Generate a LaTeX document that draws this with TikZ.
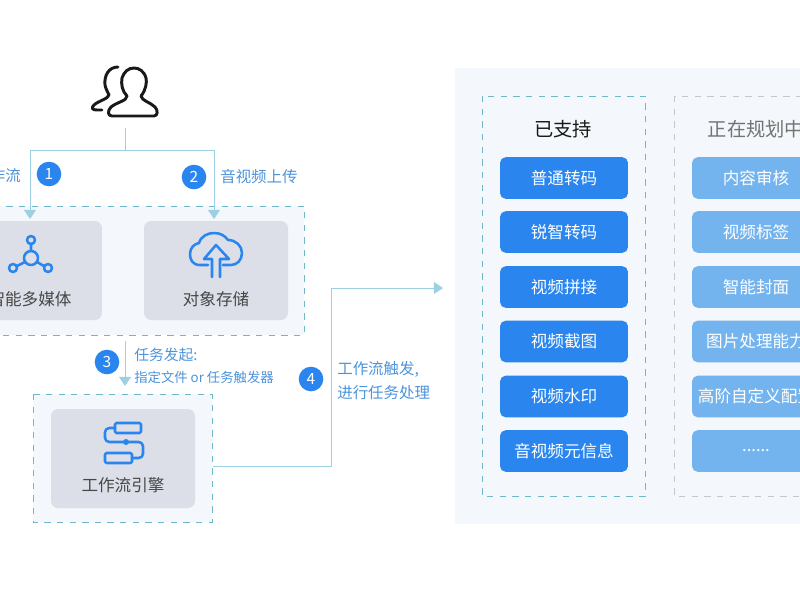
\documentclass[tikz,border=0pt]{standalone}
\usepackage{fontspec}
\setmainfont{Noto Sans CJK SC}
\usetikzlibrary{calc,arrows.meta}
\definecolor{primary}{HTML}{2A86EE}
\definecolor{secondary}{HTML}{74B4EE}
\definecolor{flowcolor}{HTML}{9CD0E4}
\definecolor{dashcolor}{HTML}{6FB8C8}
\definecolor{panelcolor}{HTML}{F4F7FB}
\definecolor{cardcolor}{HTML}{DCDFE7}
\definecolor{labelcolor}{HTML}{4C93DA}
\tikzset{
    flow/.style={line width=0.7pt, color=flowcolor, -{Triangle[length=6.5pt,width=8.5pt]}},
    flowplain/.style={line width=0.7pt, color=flowcolor},
    group/.style={draw=dashcolor, line width=0.7pt, dash pattern=on 4.5pt off 4.5pt, fill=panelcolor},
    card/.style={fill=cardcolor, rounded corners=5pt, minimum width=102.4pt, minimum height=70.4pt},
    cardtext/.style={font=\fontsize{11.8}{14}\selectfont, text=black!72},
    btn/.style={rounded corners=4pt, minimum width=91pt, minimum height=29.6pt, text=white, font=\fontsize{11.8}{14}\selectfont},
    badge/.style={circle, fill=primary, text=white, minimum size=17.5pt, inner sep=0pt, font=\fontsize{11}{12}\selectfont},
    note/.style={text=labelcolor, anchor=west, inner sep=0pt, font=\fontsize{11}{13}\selectfont},
    icon/.style={color=primary, line width=1.8pt, line join=round, line cap=round},
}
\begin{document}
\begin{tikzpicture}[x=0.025cm, y=-0.025cm]
    \clip (0,0) rectangle (800,600);

    % background panels
    \fill[panelcolor] (455,68) rectangle (830,524);
    \draw[group] (-20,206) rectangle (304,335);
    \draw[group] (33,394) rectangle (212,522);
    \draw[draw=dashcolor, line width=0.7pt, dash pattern=on 4.5pt off 4.5pt] (482,96) rectangle (645,496);
    \draw[draw=black!22, line width=0.7pt, dash pattern=on 4.5pt off 4.5pt] (674,96) rectangle (838,496);

    % cards
    \node[card] (media) at (30,270.5) {};
    \node[card] (storage) at (216,270.5) {};
    \node[card] (engine) at (123,458.5) {};
    \node[cardtext] (medialabel) at (30,299) {智能多媒体};
    \node[cardtext] (storagelabel) at (216,299) {对象存储};
    \node[cardtext] (enginelabel) at (123,485) {工作流引擎};

    % users
    \node[minimum width=48pt, minimum height=37pt, inner sep=0pt] (users) at (125,93) {};
    \draw[line width=2.1pt, black!90, line join=round, line cap=round]
        (112,116) -- (154,116) .. controls (158,116) and (158,110) .. (155,107)
        .. controls (150,102) and (142,101) .. (141,96)
        .. controls (146,90) and (147,82) .. (146,78)
        .. controls (144,71) and (139,68) .. (134,68)
        .. controls (128,68) and (124,72) .. (122,78)
        .. controls (121,84) and (122,91) .. (127,96)
        .. controls (127,101) and (117,102) .. (111,107)
        .. controls (107,111) and (108,116) .. (112,116) -- cycle;
    \draw[line width=2.1pt, black!90, line join=round, line cap=round]
        (118,67) .. controls (109,67) and (104,75) .. (105,85)
        .. controls (106,90) and (108,92) .. (109,95)
        .. controls (108,99) and (98,101) .. (94,105)
        .. controls (91,108) and (92,110) .. (97,110) -- (102,110);

    % media icon
    \draw[icon] (31,258) circle (7);
    \draw[icon] (31,240) circle (4) (13,268) circle (4) (48,268) circle (4);
    \draw[icon] (31,244) -- (31,251) (17,266) -- (25,262) (44,266) -- (37,262);

    % cloud icon
    \draw[icon] (208,265) -- (200,265) .. controls (192,265) and (190,259) .. (190,254)
        .. controls (190,248) and (194,244) .. (199,243)
        .. controls (201,236) and (208,233) .. (214,233)
        .. controls (221,233) and (225,236) .. (228,240)
        .. controls (236,240) and (242,246) .. (242,253)
        .. controls (242,260) and (237,265) .. (231,265) -- (223,265);
    \draw[icon] (212,277) -- (212,259) -- (204,259) -- (216,245) -- (229,259) -- (220,259) -- (220,277);

    % engine icon
    \draw[icon, rounded corners=1pt] (115,423) rectangle (141,433);
    \draw[icon, rounded corners=1pt] (105,453) rectangle (132,463);
    \draw[icon, rounded corners=3pt] (115,428) -- (105,428) -- (105,442) -- (143,442) -- (143,458) -- (132,458);
    \fill[primary] (126,442) circle (3);

    % connectors
    \coordinate (split) at (125,150);
    \coordinate (mediain) at (30,219);
    \coordinate (storagein) at (214,219);
    \coordinate (trigger) at (125,341);
    \coordinate (enginein) at (125,386);
    \coordinate (engineout) at (213,466);
    \coordinate (bend) at (331,466);
    \coordinate (panelin) at (443,288);
    \draw[flowplain] (users.south) ++(0,9) -- (split);
    \draw[flow] (split) -| (mediain);
    \draw[flow] (split) -| (storagein);
    \draw[flow] (trigger) -- (enginein);
    \draw[flow] (engineout) -- (bend) |- (panelin);

    % steps
    \node[badge] (stepa) at (49,174) {1};
    \node[badge] (stepb) at (194,177) {2};
    \node[badge] (stepc) at (107,362) {3};
    \node[badge] (stepd) at (311,379) {4};
    \node[note, anchor=east] (notea) at (21,176) {工作流};
    \node[note] (noteb) at (220,177) {音视频上传};
    \node[note, font=\fontsize{10.5}{12}\selectfont] (notec) at (134,355) {任务发起:};
    \node[note, font=\fontsize{9.5}{11}\selectfont] (notee) at (134,377) {指定文件 or 任务触发器};
    \node[note] (noted) at (337,369) {工作流触发,};
    \node[note] (notef) at (337,393) {进行任务处理};

    % columns
    \node[font=\fontsize{13.7}{16}\selectfont, text=black!90] (donetitle) at (563,129) {已支持};
    \node[font=\fontsize{13.7}{16}\selectfont, text=black!55] (plantitle) at (756,129) {正在规划中};
    \foreach \name/\ypos/\txt in {a/178/普通转码, b/232/锐智转码, c/287/视频拼接, d/341.5/视频截图, e/396.5/视频水印, f/451/音视频元信息}
        \node[btn, fill=primary] (done\name) at (564,\ypos) {\txt};
    \foreach \name/\ypos/\txt in {a/178/内容审核, b/232/视频标签, c/287/智能封面, d/341.5/图片处理能力, e/396.5/高阶自定义配置, f/451/.{}.{}.{}.{}.{}.}
        \node[btn, fill=secondary] (plan\name) at (756,\ypos) {\txt};
\end{tikzpicture}
\end{document}
